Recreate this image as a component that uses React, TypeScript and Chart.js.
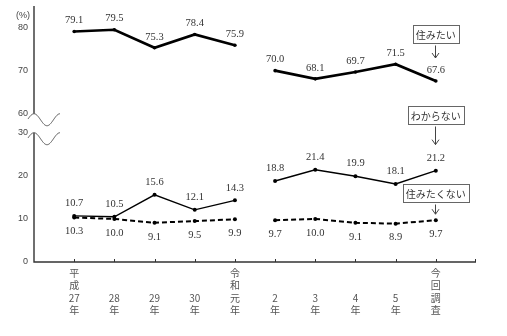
import React, { useEffect, useRef } from "react";
import { Chart, registerables } from "chart.js";
Chart.register(...registerables);

const categories: string[][] = [
  ["平", "成", "27", "年"],
  ["", "", "28", "年"],
  ["", "", "29", "年"],
  ["", "", "30", "年"],
  ["令", "和", "元", "年"],
  ["", "", "2", "年"],
  ["", "", "3", "年"],
  ["", "", "4", "年"],
  ["", "", "5", "年"],
  ["今", "回", "調", "査"],
];
const seriesNames = ["住みたい", "わからない", "住みたくない"];
const wantToLive = [79.1, 79.5, 75.3, 78.4, 75.9, 70.0, 68.1, 69.7, 71.5, 67.6];
const dontKnow = [10.7, 10.5, 15.6, 12.1, 14.3, 18.8, 21.4, 19.9, 18.1, 21.2];
const dontWant = [10.3, 10.0, 9.1, 9.5, 9.9, 9.7, 10.0, 9.1, 8.9, 9.7];
const yTickValues = [0, 10, 20, 30, 60, 70, 80];
const BREAK_LOW = 30;
const BREAK_HIGH = 60;
const BREAK_GAP = 4.4;
const ERA_GAP_AFTER = 4; // line breaks between 令和元年 and 2年

const toAxis = (v: number) => (v >= BREAK_HIGH ? v - BREAK_HIGH + BREAK_LOW + BREAK_GAP : v);

const callouts = [
  { text: "住みたい", series: 0, boxGap: 38, arrowGap: 23 },
  { text: "わからない", series: 1, boxGap: 47, arrowGap: 26 },
  { text: "住みたくない", series: 2, boxGap: 18, arrowGap: 6 },
];

const labelOffsets = [-11, -12.5, 14];

export default function App() {
  const ref = useRef<HTMLCanvasElement | null>(null);
  useEffect(() => {
    if (!ref.current) return;
    const seriesValues = [wantToLive, dontKnow, dontWant];
    const styles = [
      { w: 2.6, dash: [] as number[], r: 1.8 },
      { w: 1.4, dash: [] as number[], r: 2 },
      { w: 2, dash: [5, 3], r: 2 },
    ];
    const gapColor = (color: string) => (ctx: any) =>
      ctx.p0DataIndex === ERA_GAP_AFTER ? "rgba(0,0,0,0)" : color;

    const decor = {
      id: "decor",
      afterDatasetsDraw(chart: any) {
        const c = chart.ctx;
        c.save();
        c.font = "10.5px 'Liberation Serif', serif";
        c.fillStyle = "#333";
        c.textAlign = "center";
        c.textBaseline = "middle";
        chart.data.datasets.forEach((ds: any, di: number) => {
          const meta = chart.getDatasetMeta(di);
          meta.data.forEach((pt: any, i: number) => {
            const v = seriesValues[di][i];
            c.fillText(v.toFixed(1), pt.x, pt.y + labelOffsets[di]);
          });
        });
        c.restore();
      },
      afterDraw(chart: any) {
        const c = chart.ctx;
        const area = chart.chartArea;
        const xs = chart.scales.x;
        const ys = chart.scales.y;
        const ax = area.left;
        const p60 = ys.getPixelForValue(toAxis(BREAK_HIGH));
        const p30 = ys.getPixelForValue(BREAK_LOW);
        c.save();
        c.strokeStyle = "#333";
        c.lineWidth = 1.4;
        c.beginPath();
        c.moveTo(ax, area.top);
        c.lineTo(ax, p60);
        c.moveTo(ax, p30);
        c.lineTo(ax, area.bottom);
        c.lineTo(area.right, area.bottom);
        c.stroke();
        c.lineWidth = 1;
        c.beginPath();
        for (let i = 0; i < categories.length; i++) {
          const x = Math.round(xs.getPixelForValue(i)) + 0.5;
          c.moveTo(x, area.bottom);
          c.lineTo(x, area.bottom - 3);
        }
        c.moveTo(area.right - 0.5, area.bottom);
        c.lineTo(area.right - 0.5, area.bottom - 3);
        c.stroke();
        c.strokeStyle = "#555";
        c.lineWidth = 1;
        [p60, p30].forEach((p) => {
          c.beginPath();
          for (let x = ax - 6; x <= ax + 26; x += 0.5) {
            const y = p + 6 * (1 - Math.cos((2 * Math.PI * (x - ax)) / 26));
            if (x === ax - 6) c.moveTo(x, y);
            else c.lineTo(x, y);
          }
          c.stroke();
        });
        c.fillStyle = "#444";
        c.font = "9px 'Liberation Sans', sans-serif";
        c.textAlign = "center";
        c.textBaseline = "middle";
        c.fillText("(%)", 23, 16);
        c.font = "10px 'Noto Sans CJK JP', sans-serif";
        callouts.forEach((co) => {
          const meta = chart.getDatasetMeta(co.series);
          const pt = meta.data[meta.data.length - 1];
          const tw = c.measureText(co.text).width;
          const bw = tw + 6;
          const bh = 18;
          const bx = Math.round(pt.x - bw / 2) + 0.5;
          const by = Math.round(pt.y - co.boxGap - bh) + 0.5;
          c.fillStyle = "#fff";
          c.fillRect(bx, by, bw, bh);
          c.strokeStyle = "#666";
          c.lineWidth = 1;
          c.strokeRect(bx, by, bw, bh);
          c.fillStyle = "#333";
          c.fillText(co.text, pt.x, by + bh / 2 + 0.5);
          const axx = Math.round(pt.x) - 0.5;
          const top = by + bh + 2;
          const end = pt.y - co.arrowGap;
          c.strokeStyle = "#444";
          c.beginPath();
          c.moveTo(axx, top);
          c.lineTo(axx, end);
          c.moveTo(axx - 3.5, end - 5);
          c.lineTo(axx, end);
          c.lineTo(axx + 3.5, end - 5);
          c.stroke();
        });
        c.restore();
      },
    };

    const chart = new Chart(ref.current, {
      type: "line",
      data: {
        datasets: seriesValues.map((vals, di) => ({
          label: seriesNames[di],
          data: vals.map((v, i) => ({ x: i, y: toAxis(v) })),
          borderColor: "#000",
          backgroundColor: "#000",
          borderWidth: styles[di].w,
          borderDash: styles[di].dash,
          pointRadius: styles[di].r,
          pointBorderWidth: 0,
          pointBackgroundColor: "#000",
          tension: 0,
          fill: false,
          clip: false,
          segment: { borderColor: gapColor("#000") },
        })),
      },
      plugins: [decor],
      options: {
        animation: false,
        responsive: false,
        events: [],
        layout: { padding: { left: 0, top: 6, right: 31, bottom: 0 } },
        plugins: { legend: { display: false }, tooltip: { enabled: false } },
        scales: {
          x: {
            type: "linear",
            min: -1,
            max: 10,
            grid: { display: false, drawTicks: false },
            border: { display: false },
            afterBuildTicks: (s: any) => {
              s.ticks = categories.map((_, i) => ({ value: i }));
            },
            afterFit: (s: any) => {
              s.height = 74;
              s.paddingLeft = 0;
              s.paddingRight = 0;
              s.paddingTop = 0;
              s.paddingBottom = 0;
            },
            ticks: {
              autoSkip: false,
              maxRotation: 0,
              padding: 5,
              color: "#555",
              font: { family: "'Noto Sans CJK JP', sans-serif", size: 10, lineHeight: 1.23 },
              callback: (v: any) => categories[v as number] ?? "",
            },
          },
          y: {
            min: 0,
            max: 59.4,
            grid: { display: false, drawTicks: false },
            border: { display: false },
            afterBuildTicks: (s: any) => {
              s.ticks = yTickValues.map((v) => ({ value: toAxis(v) }));
            },
            afterFit: (s: any) => {
              s.width = 34;
              s.paddingTop = 0;
              s.paddingBottom = 0;
              s.paddingLeft = 0;
              s.paddingRight = 0;
            },
            ticks: {
              padding: 6,
              color: "#444",
              font: { family: "'Liberation Sans', sans-serif", size: 9 },
              callback: (_v: any, idx: number) => String(yTickValues[idx]),
            },
          },
        },
      },
    });
    return () => chart.destroy();
  }, []);
  return (
    <div style={{ position: "fixed", left: 0, top: 0, width: 507, height: 336, background: "#fff" }}>
      <canvas ref={ref} width={507} height={336} />
    </div>
  );
}
